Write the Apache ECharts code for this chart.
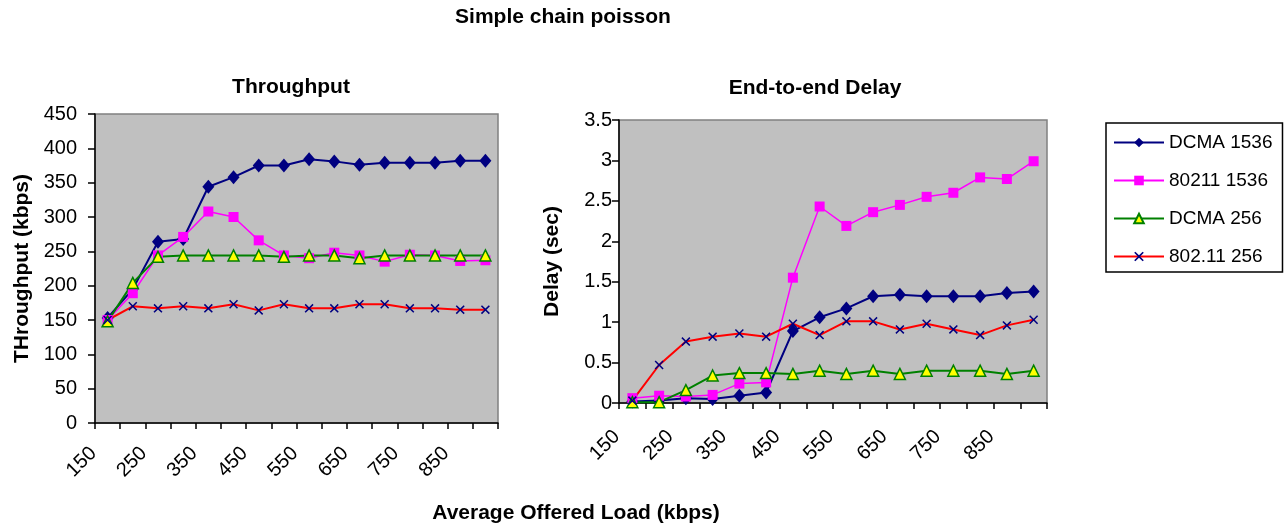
<!DOCTYPE html>
<html>
<head>
<meta charset="utf-8">
<script src="https://cdn.jsdelivr.net/npm/echarts@6/dist/echarts.min.js"></script>
<style>
html,body{margin:0;padding:0;background:#fff;}
#chart{width:1286px;height:527px;}
</style>
</head>
<body>
<div id="chart"></div>
<script>
const categories = ['150','200','250','300','350','400','450','500','550','600','650','700','750','800','850','900'];
const seriesNames = ['DCMA 1536','80211 1536','DCMA 256','802.11 256'];

const throughputDCMA1536 = [153,195,264,268,344,358,375,375,384,381,376,379,379,379,382,382];
const throughput80211_1536 = [150,189,244,271,308,300,266,244,240,248,244,235,245,244,236,237];
const throughputDCMA256 = [148,204,242,244,244,244,244,242,244,244,240,244,244,244,244,244];
const throughput80211_256 = [150,170,167,170,167,173,164,173,167,167,173,173,167,167,165,165];

const delayDCMA1536 = [0.02,0.03,0.06,0.05,0.09,0.13,0.89,1.06,1.17,1.32,1.34,1.32,1.32,1.32,1.36,1.38];
const delay80211_1536 = [0.06,0.09,0.08,0.10,0.24,0.255,1.55,2.43,2.19,2.36,2.45,2.55,2.60,2.79,2.77,2.99];
const delayDCMA256 = [0.01,0.01,0.16,0.34,0.37,0.37,0.36,0.40,0.36,0.40,0.36,0.40,0.40,0.40,0.36,0.40];
const delay80211_256 = [0.03,0.47,0.76,0.82,0.86,0.82,0.98,0.84,1.01,1.01,0.91,0.98,0.91,0.84,0.96,1.03];

const FONT = "'Liberation Sans', Arial, sans-serif";
const X_PATH = 'path://M0,1.2L1.2,0L5,3.8L8.8,0L10,1.2L6.2,5L10,8.8L8.8,10L5,6.2L1.2,10L0,8.8L3.8,5Z';

const styles = [
  {symbol:'diamond', symbolSize:[12,14], itemStyle:{color:'#000080'}, lineStyle:{color:'#000080', width:2}},
  {symbol:'rect', symbolSize:10, itemStyle:{color:'#FF00FF'}, lineStyle:{color:'#FF00FF', width:1.5}},
  {symbol:'triangle', symbolSize:11, itemStyle:{color:'#FFFF00', borderColor:'#008000', borderWidth:1.5}, lineStyle:{color:'#008000', width:2}},
  {symbol:X_PATH, symbolSize:9, itemStyle:{color:'#000080'}, lineStyle:{color:'#FF0000', width:2}}
];

function mk(i, data, gi){
  return Object.assign({
    name: seriesNames[i], type:'line', data: data,
    xAxisIndex: gi, yAxisIndex: gi, showAllSymbol:true, animation:false,
    emphasis:{disabled:true}
  }, JSON.parse(JSON.stringify(styles[i])), {symbol: styles[i].symbol});
}

function xAxisCfg(gi, pad, margin){
  return {
    type:'category', gridIndex: gi, data: categories, boundaryGap:true,
    axisLine:{show:true, lineStyle:{color:'#000', width:1.5}},
    axisTick:{show:true, length:6, inside:false, interval:0, lineStyle:{color:'#000', width:1.5}},
    axisLabel:{interval:1, rotate:45, margin: margin, color:'#000', fontSize:20, fontFamily:FONT, padding: pad},
    splitLine:{show:false}
  };
}
function yAxisCfg(gi, max, interval, name, gap, margin){
  return {
    type:'value', gridIndex: gi, min:0, max:max, interval:interval,
    name: name, nameLocation:'middle', nameGap: gap, nameRotate:90,
    nameTextStyle:{fontWeight:'bold', fontSize:21, fontFamily:FONT, color:'#000'},
    axisLine:{show:true, lineStyle:{color:'#000', width:1.5}},
    axisTick:{show:true, length:7, inside:false, lineStyle:{color:'#000', width:1.5}},
    axisLabel:{margin: margin, color:'#000', fontSize:20, fontFamily:FONT},
    splitLine:{show:false}
  };
}

const chart = echarts.init(document.getElementById('chart'), null, {renderer:'canvas'});
chart.setOption({
  animation:false,
  backgroundColor:'#fff',
  textStyle:{fontFamily:FONT},
  grid:[
    {left:95, top:114, width:403, height:309, show:true, backgroundColor:'#C0C0C0', borderColor:'#808080', borderWidth:1.5, containLabel:false, outerBoundsMode:'none'},
    {left:619, top:120, width:428, height:283, show:true, backgroundColor:'#C0C0C0', borderColor:'#808080', borderWidth:1.5, containLabel:false, outerBoundsMode:'none'}
  ],
  xAxis:[xAxisCfg(0,[0,20,0,0],13), xAxisCfg(1,[0,22,0,0],15)],
  yAxis:[yAxisCfg(0,450,50,'THroughput (kbps)',62,18), yAxisCfg(1,3.5,0.5,'Delay (sec)',56,7)],
  legend:{
    show:true, orient:'vertical', left:1106, top:123,
    data: seriesNames,
    itemWidth:50, itemHeight:12, itemGap:19,
    padding:[10,10,6,7],
    borderColor:'#000', borderWidth:1.5, backgroundColor:'#fff',
    textStyle:{fontSize:19, fontFamily:FONT, color:'#000'}
  },
  graphic:[
    {type:'text', x:563, y:17, style:{text:'Simple chain poisson', align:'center', verticalAlign:'middle', font:"bold 21px 'Liberation Sans', Arial, sans-serif", fill:'#000'}},
    {type:'text', x:291, y:87, style:{text:'Throughput', align:'center', verticalAlign:'middle', font:"bold 21px 'Liberation Sans', Arial, sans-serif", fill:'#000'}},
    {type:'text', x:815, y:88, style:{text:'End-to-end Delay', align:'center', verticalAlign:'middle', font:"bold 21px 'Liberation Sans', Arial, sans-serif", fill:'#000'}},
    {type:'text', x:576, y:513, style:{text:'Average Offered Load (kbps)', align:'center', verticalAlign:'middle', font:"bold 21px 'Liberation Sans', Arial, sans-serif", fill:'#000'}}
  ],
  series:[
    mk(0, throughputDCMA1536, 0),
    mk(1, throughput80211_1536, 0),
    mk(2, throughputDCMA256, 0),
    mk(3, throughput80211_256, 0),
    mk(0, delayDCMA1536, 1),
    mk(1, delay80211_1536, 1),
    mk(2, delayDCMA256, 1),
    mk(3, delay80211_256, 1)
  ]
});
</script>
</body>
</html>
